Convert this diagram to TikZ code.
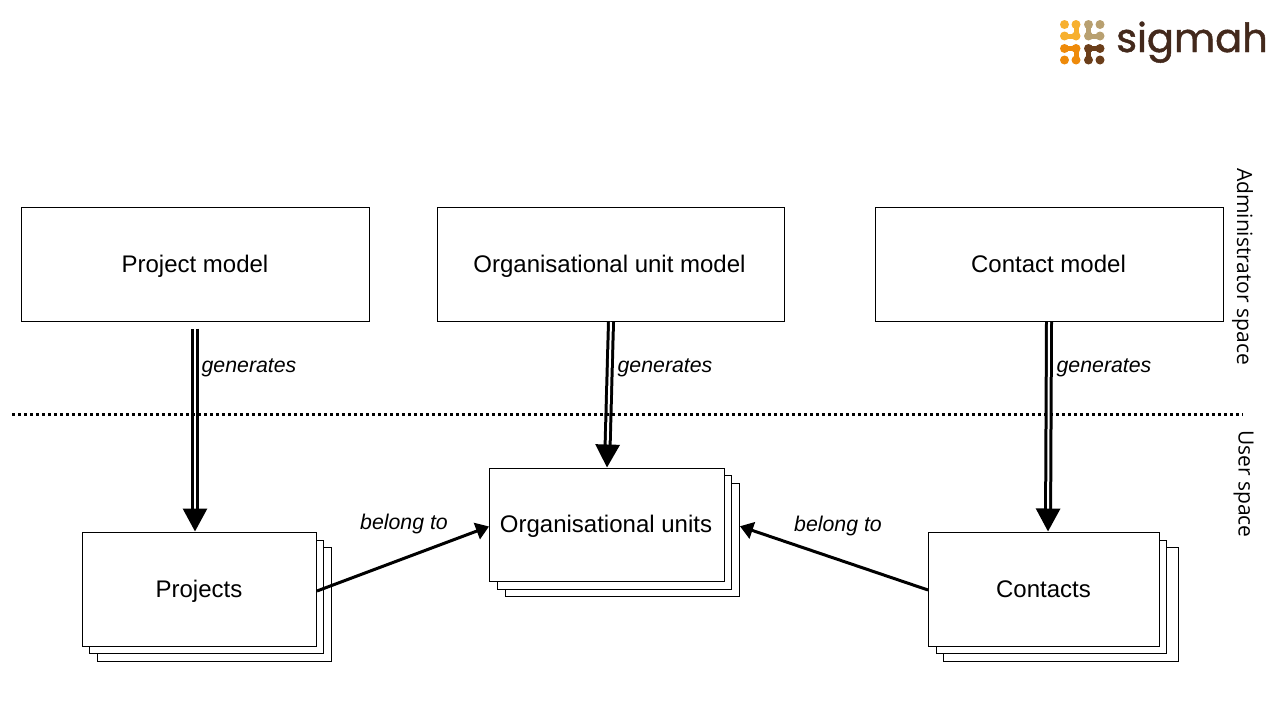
\documentclass[tikz,border=0pt]{standalone}
\usepackage{fontspec}
\setmainfont{Liberation Sans}
\newfontfamily\sidefont{Open Sans}
\newfontfamily\logofont[FakeBold=1.2]{Poppins}
\usetikzlibrary{arrows.meta}
\definecolor{logoyellow}{HTML}{F7B02F}
\definecolor{logotan}{HTML}{B8A070}
\definecolor{logoorange}{HTML}{EE8A0A}
\definecolor{logobrown}{HTML}{6B3E1A}
\definecolor{logotext}{HTML}{43291C}
\tikzset{
  x=1pt,y=-1pt,
  boxnode/.style={draw=black,line width=1pt,fill=white,inner sep=0pt,
    text height=17.5pt,text depth=2.5pt,
    font=\fontsize{24}{28}\selectfont},
  verblabel/.style={inner sep=0pt,text height=15pt,text depth=1pt,font=\fontsize{21.3}{25}\selectfont\itshape},
  sidelabel/.style={inner sep=0pt,rotate=-90,font=\fontsize{21}{25}\selectfont\sidefont},
  generatesarrow/.style={line width=3pt,double=white,double distance=2pt,
    -{Triangle[length=23pt,width=24pt,fill=black]}},
  belongsarrow/.style={line width=3pt,-{Triangle[length=13pt,width=17pt,fill=black]}},
  spaceline/.style={line width=3pt,dash pattern=on 3pt off 3pt},
  logolink/.style={line width=5pt,line cap=round,line join=round},
}
\newcommand{\boxat}[6]{% name, left, top, right, bottom, text
  \node[boxnode,minimum width={#4pt-#2pt},minimum height={#5pt-#3pt}] (#1) at ({(#2+#4)/2},{(#3+#5)/2}) {#6};}
\newcommand{\logodots}[3]{% x, y, colour
  \foreach \dx in {0,11.5}{\foreach \dy in {0,11.5}{
    \fill[#3] ({#1+\dx},{#2+\dy}) circle[radius=4.5];}}}
\begin{document}
\begin{tikzpicture}
\useasboundingbox (0,0) rectangle (1280,720);
% models
\boxat{pm}{21.5}{207.5}{369.5}{321.5}{\hspace*{-1pt}Project model}
\boxat{om}{437.5}{207.5}{784.5}{321.5}{\hspace*{-3pt}Organisational unit model}
\boxat{cm}{875.5}{207.5}{1223.5}{321.5}{\hspace*{-2pt}Contact model}
% projects stack
\boxat{pb}{97.5}{547.5}{331.5}{661.5}{}
\boxat{pa}{89.5}{540.5}{323.5}{653.5}{}
\boxat{pf}{82.5}{532.5}{316.5}{646.5}{\hspace*{-1pt}Projects}
% organisational units stack
\boxat{ob}{505.5}{483.5}{739.5}{596.5}{}
\boxat{oa}{497.5}{475.5}{731.5}{589.5}{}
\boxat{of}{489.5}{468.5}{724.5}{581.5}{\hspace*{-2pt}Organisational units}
% contacts stack
\boxat{cb}{943.5}{547.5}{1178.5}{661.5}{}
\boxat{ca}{936.5}{540.5}{1166.5}{653.5}{}
\boxat{cf}{928.5}{532.5}{1159.5}{646.5}{\hspace*{-1pt}Contacts}
% connectors
\draw[generatesarrow] ([xshift=-0.5pt,yshift=-6.5pt]pm.south) -- ([xshift=-4.5pt,yshift=0.5pt]pf.north);
\draw[generatesarrow] (om.south) -- ([yshift=0.5pt]of.north);
\draw[generatesarrow] ([xshift=-0.5pt]cm.south) -- ([xshift=4pt,yshift=0.5pt]cf.north);
\draw[belongsarrow] ([yshift=-1.5pt]pf.east) -- ([yshift=-1.5pt]of.west);
\draw[belongsarrow] ([yshift=-0.5pt]cf.west) -- ([yshift=13.75pt]ob.east);
% separator
\coordinate (sepL) at (12,414);
\coordinate (sepR) at (1243,414);
\draw[spaceline] (sepL) -- (sepR);
% labels
\node[verblabel] (g1) at (249,365) {generates};
\node[verblabel] (g2) at (665,365) {generates};
\node[verblabel] (g3) at (1104,365) {generates};
\node[verblabel] (b1) at (404,522) {belong to};
\node[verblabel] (b2) at (838,524) {belong to};
\node[sidelabel] (admin) at (1242.5,266.5) {Administrator space};
\node[sidelabel] (user) at (1243.5,484) {User space};
% logo
\logodots{1064.5}{24.5}{logoyellow}
\draw[logolink,logoyellow] (1064.5,36) -- (1076,36) -- (1076,24.5);
\logodots{1088.5}{24.5}{logotan}
\draw[logolink,logotan] (1088.5,24.5) -- (1088.5,36) -- (1100,36);
\logodots{1064.5}{48.5}{logoorange}
\draw[logolink,logoorange] (1064.5,48.5) -- (1076,48.5) -- (1076,60);
\logodots{1088.5}{48.5}{logobrown}
\draw[logolink,logobrown] (1100,48.5) -- (1088.5,48.5) -- (1088.5,60);
\node[inner sep=0pt,anchor=base west,text=logotext,font=\fontsize{40}{46}\selectfont\logofont] (logo) at (1116,52) {sigmah};
\end{tikzpicture}
\end{document}
